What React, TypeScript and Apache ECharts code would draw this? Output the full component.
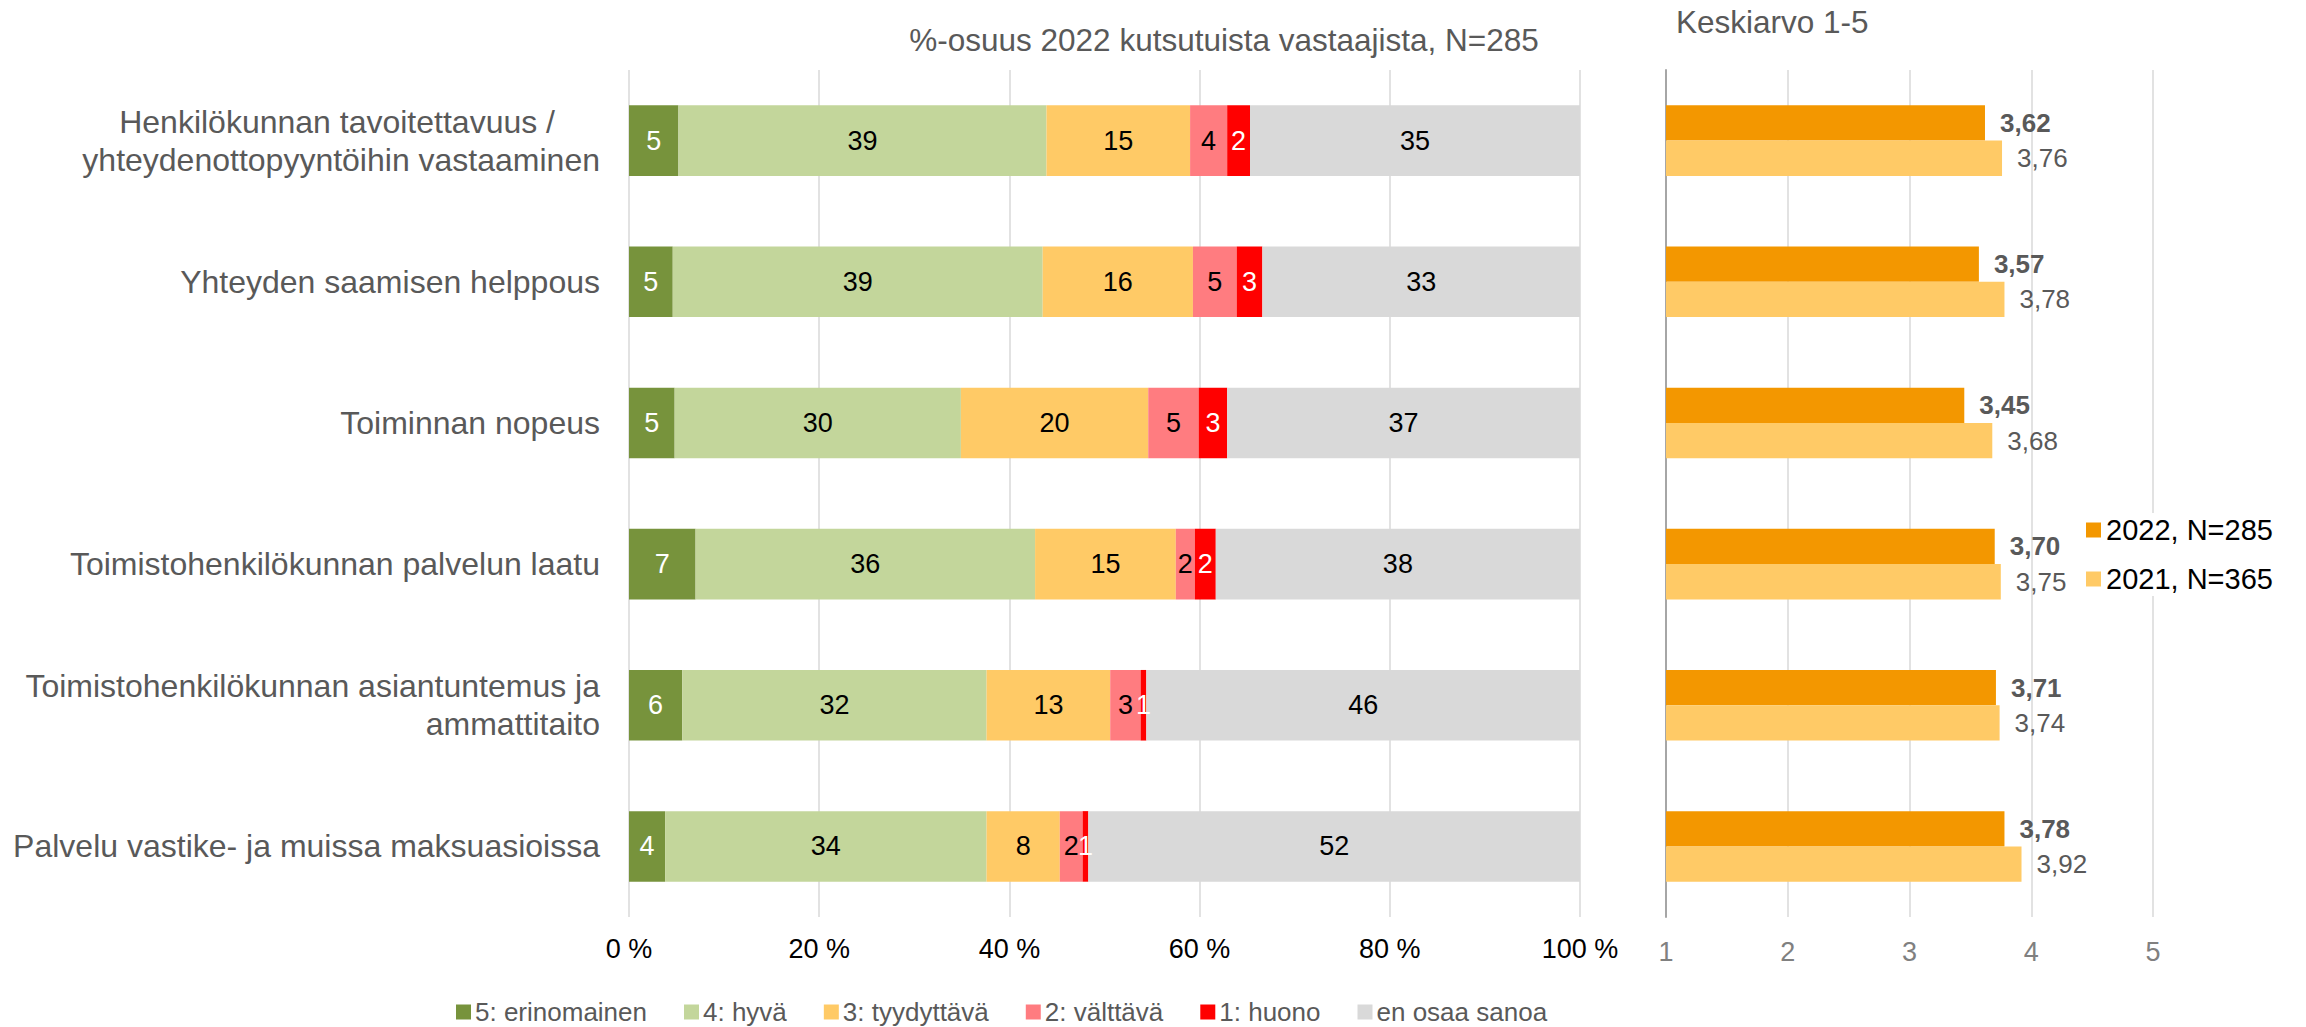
import React, { useEffect, useRef } from "react";
import * as echarts from "echarts";

const categories = [
  "Henkilökunnan tavoitettavuus /\nyhteydenottopyyntöihin vastaaminen",
  "Yhteyden saamisen helppous",
  "Toiminnan nopeus",
  "Toimistohenkilökunnan palvelun laatu",
  "Toimistohenkilökunnan asiantuntemus ja\nammattitaito",
  "Palvelu vastike- ja muissa maksuasioissa",
];

const shareNames = ["5: erinomainen", "4: hyvä", "3: tyydyttävä", "2: välttävä", "1: huono", "en osaa sanoa"];
const shareColors = ["#77933C", "#C3D69B", "#FFCA66", "#FF7C80", "#FF0000", "#D9D9D9"];
const shareLabelColors = ["#FFFFFF", "#000000", "#000000", "#000000", "#FFFFFF", "#000000"];

const excellent = [5.2, 4.6, 4.8, 7.0, 5.6, 3.8];
const good = [38.7, 38.9, 30.1, 35.7, 32.0, 33.8];
const satisfactory = [15.1, 15.8, 19.7, 14.8, 13.0, 7.7];
const passable = [3.9, 4.6, 5.3, 2.0, 3.2, 2.4];
const poor = [2.4, 2.7, 3.0, 2.2, 0.6, 0.6];
const dontKnow = [34.7, 33.4, 37.1, 38.3, 45.6, 51.7];
const shareSeries = [excellent, good, satisfactory, passable, poor, dontKnow];

const meanNames = ["2022, N=285", "2021, N=365"];
const meanColors = ["#F39700", "#FFCA66"];
const mean2022 = [3.62, 3.57, 3.45, 3.7, 3.71, 3.78];
const mean2021 = [3.76, 3.78, 3.68, 3.75, 3.74, 3.92];

const percentTicks = { min: 0, max: 100, interval: 20 };
const meanTicks = { min: 1, max: 5, interval: 1 };

const leftTitle = "%-osuus 2022 kutsutuista vastaajista, N=285";
const rightTitle = "Keskiarvo 1-5";

const FONT = "'Liberation Sans', Arial, sans-serif";

export default function App() {
  const ref = useRef<HTMLDivElement>(null);

  useEffect(() => {
    if (!ref.current) return;
    const chart = echarts.init(ref.current, undefined, { renderer: "svg" });

    const leftSeries = shareSeries.map((data, i) => ({
      name: shareNames[i],
      type: "bar",
      stack: "share",
      xAxisIndex: 0,
      yAxisIndex: 0,
      barWidth: "50%",
      data,
      itemStyle: { color: shareColors[i] },
      label: {
        show: true,
        position: "inside",
        color: shareLabelColors[i],
        fontSize: 27,
        fontFamily: FONT,
        formatter: (p: any) => String(Math.round(p.value)),
      },
    }));

    const fmt = (v: number) => v.toFixed(2).replace(".", ",");

    const rightSeries = [mean2022, mean2021].map((data, i) => ({
      name: meanNames[i],
      type: "bar",
      xAxisIndex: 1,
      yAxisIndex: 1,
      barGap: "0%",
      barCategoryGap: "50%",
      clip: true,
      data,
      itemStyle: { color: meanColors[i] },
      label: {
        show: true,
        position: "right",
        distance: 15,
        color: "#595959",
        fontSize: 26,
        fontWeight: i === 0 ? "bold" : "normal",
        fontFamily: FONT,
        formatter: (p: any) => fmt(p.value),
      },
    }));

    const catLabel = (value: string) => {
      const lines = value.split("\n");
      if (lines.length === 2 && value === categories[0]) {
        return `{first|${lines[0]}}\n{plain|${lines[1]}}`;
      }
      return lines.map((l) => `{plain|${l}}`).join("\n");
    };

    const catRichBase = {
      color: "#595959",
      fontSize: 32,
      lineHeight: 38,
      fontFamily: FONT,
      align: "right",
    };

    chart.setOption({
      animation: false,
      backgroundColor: "#FFFFFF",
      textStyle: { fontFamily: FONT },
      grid: [
        { left: 629, width: 951, top: 70, height: 847, containLabel: false },
        { left: 1666, width: 487, top: 70, height: 847, containLabel: false },
      ],
      xAxis: [
        {
          type: "value",
          gridIndex: 0,
          ...percentTicks,
          axisLine: { show: false },
          axisTick: { show: false },
          splitLine: { show: true, lineStyle: { color: "#D9D9D9", width: 1.5 } },
          axisLabel: {
            color: "#000000",
            fontSize: 27,
            fontFamily: FONT,
            margin: 18,
            formatter: (v: number) => `${v} %`,
          },
        },
        {
          type: "value",
          gridIndex: 1,
          ...meanTicks,
          axisLine: { show: false },
          axisTick: { show: false },
          splitLine: { show: true, lineStyle: { color: "#D9D9D9", width: 1.5 } },
          axisLabel: {
            color: "#808080",
            fontSize: 27,
            fontFamily: FONT,
            margin: 21,
          },
        },
      ],
      yAxis: [
        {
          type: "category",
          gridIndex: 0,
          inverse: true,
          data: categories,
          axisLine: { show: false },
          axisTick: { show: false },
          axisLabel: {
            color: "#595959",
            fontSize: 32,
            lineHeight: 38,
            fontFamily: FONT,
            margin: 29,
            align: "right",
            formatter: catLabel,
            rich: {
              plain: { ...catRichBase },
              first: { ...catRichBase, padding: [0, 45, 0, 0] },
            },
          },
        },
        {
          type: "category",
          gridIndex: 1,
          inverse: true,
          data: categories,
          axisLine: { show: true, lineStyle: { color: "#A6A6A6", width: 2 } },
          axisTick: { show: false },
          axisLabel: { show: false },
        },
      ],
      legend: [
        {
          data: shareNames,
          left: 456,
          bottom: 0,
          orient: "horizontal",
          icon: "rect",
          itemWidth: 15,
          itemHeight: 15,
          itemGap: 37,
          textStyle: { color: "#595959", fontSize: 26, fontFamily: FONT, padding: [0, 0, 0, -1] },
          padding: [0, 0, 2, 0],
        },
        {
          data: meanNames,
          left: 2084,
          top: 513,
          orient: "vertical",
          icon: "rect",
          itemWidth: 15,
          itemHeight: 15,
          itemGap: 19,
          backgroundColor: "#FFFFFF",
          padding: [2, 4, 2, 2],
          textStyle: { color: "#000000", fontSize: 29, lineHeight: 30, fontFamily: FONT },
        },
      ],
      graphic: [
        {
          type: "text",
          x: 1224,
          y: 40,
          style: {
            text: leftTitle,
            fill: "#595959",
            fontSize: 31.5,
            fontFamily: FONT,
            textAlign: "center",
            textVerticalAlign: "middle",
          },
        },
        {
          type: "text",
          x: 1676,
          y: 22,
          style: {
            text: rightTitle,
            fill: "#595959",
            fontSize: 31.5,
            fontFamily: FONT,
            textAlign: "left",
            textVerticalAlign: "middle",
          },
        },
      ],
      series: [...leftSeries, ...rightSeries],
    });

    return () => chart.dispose();
  }, []);

  return (
    <div
      ref={ref}
      style={{ position: "fixed", left: 0, top: 0, width: 2306, height: 1027 }}
    />
  );
}
